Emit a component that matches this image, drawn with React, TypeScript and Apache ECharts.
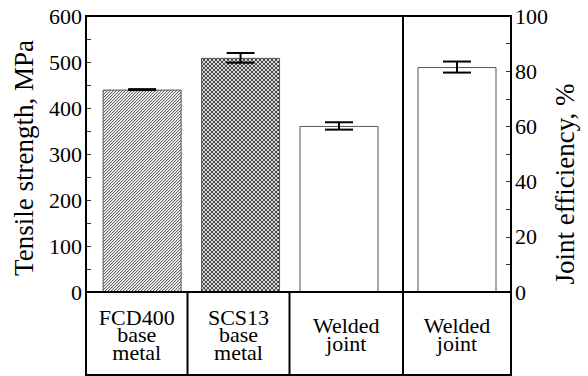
import React, { useEffect, useRef } from "react";
import * as echarts from "echarts";

// ---- data ----
const strengthCategories = ["FCD400\nbase\nmetal", "SCS13\nbase\nmetal", "Welded\njoint"];
const strengthValues = [440, 509, 361];
const strengthErrors = [1, 10.5, 8];
const efficiencyCategories = ["Welded\njoint"];
const efficiencyValues = [81.5];
const efficiencyErrors = [2];
const leftAxisName = "Tensile strength, MPa";
const rightAxisName = "Joint efficiency, %";

// ---- layout ----
const W = 588;
const H = 376;
const PL = 86; // plot left
const PR = 511; // plot right
const PT = 16; // plot top
const PB = 292; // plot bottom (zero line)
const BB = 375; // bottom of label boxes
const SPLIT = 403; // divider between the two panels
const BOX_DIVS = [187.5, 289.5];
const FONT = "'Liberation Serif', 'DejaVu Serif', 'Times New Roman', serif";

function makePattern(kind: "hatch" | "cross"): HTMLCanvasElement {
  const c = document.createElement("canvas");
  const n = kind === "hatch" ? 3 : 4;
  c.width = n;
  c.height = n;
  const ctx = c.getContext("2d")!;
  if (kind === "hatch") {
    ctx.fillStyle = "#ffffff";
    ctx.fillRect(0, 0, n, n);
    for (let i = 0; i < n; i++) {
      ctx.fillStyle = "#666666";
      ctx.fillRect(i, n - 1 - i, 1, 1);
      ctx.fillStyle = "#d4d4d4";
      ctx.fillRect((i + 1) % n, n - 1 - i, 1, 1);
    }
  } else {
    ctx.fillStyle = "#d8d8d8";
    ctx.fillRect(0, 0, n, n);
    ctx.fillStyle = "#4a4a4a";
    for (let i = 0; i < n; i++) {
      ctx.fillRect(i, i, 1, 1);
      ctx.fillRect(i, n - 1 - i, 1, 1);
    }
  }
  return c;
}

export default function App() {
  const ref = useRef<HTMLDivElement>(null);

  useEffect(() => {
    if (!ref.current) return;
    const chart = echarts.init(ref.current, null, { renderer: "svg" });

    const fills: any[] = [
      { image: makePattern("hatch"), repeat: "repeat" },
      { image: makePattern("cross"), repeat: "repeat" },
      "#ffffff",
    ];

    const errRender = (params: any, api: any) => {
      const x = api.value(0);
      const lo = api.value(1);
      const hi = api.value(2);
      const t = api.coord([x, hi]);
      const b = api.coord([x, lo]);
      const hw = 14;
      const st = { stroke: "#000", lineWidth: 2 };
      return {
        type: "group",
        children: [
          { type: "line", shape: { x1: t[0], y1: t[1], x2: b[0], y2: b[1] }, style: st },
          { type: "line", shape: { x1: t[0] - hw, y1: t[1], x2: t[0] + hw, y2: t[1] }, style: st },
          { type: "line", shape: { x1: b[0] - hw, y1: b[1], x2: b[0] + hw, y2: b[1] }, style: st },
        ],
      };
    };

    const lineStyle = { stroke: "#000", lineWidth: 2 };
    const hLine = (x1: number, x2: number, y: number) => ({
      type: "line",
      shape: { x1, y1: y, x2, y2: y },
      style: lineStyle,
      z: 100,
    });
    const vLine = (x: number, y1: number, y2: number) => ({
      type: "line",
      shape: { x1: x, y1, x2: x, y2 },
      style: lineStyle,
      z: 100,
    });

    const boxEdges = [PL, ...BOX_DIVS, SPLIT, PR];
    const allLabels = [...strengthCategories, ...efficiencyCategories];
    const boxTexts = allLabels.map((label, i) => ({
      type: "text",
      x: (boxEdges[i] + boxEdges[i + 1]) / 2,
      y: (PB + BB) / 2 + 1,
      style: {
        text: label,
        font: `22px ${FONT}`,
        fill: "#000",
        align: "center",
        verticalAlign: "middle",
        lineHeight: 17.5,
      },
      z: 100,
    }));

    const axisLabel = { color: "#000", fontSize: 22, fontFamily: FONT };

    chart.setOption({
      animation: false,
      grid: [
        { left: PL, right: W - SPLIT, top: PT, bottom: H - PB },
        { left: SPLIT, right: W - PR, top: PT, bottom: H - PB },
      ],
      xAxis: [
        { type: "value", gridIndex: 0, min: 0.43, max: 3.65, show: false },
        { type: "category", gridIndex: 1, data: efficiencyCategories, show: false },
      ],
      yAxis: [
        {
          type: "value",
          gridIndex: 0,
          position: "left",
          min: 0,
          max: 600,
          interval: 100,
          axisLine: { show: false },
          axisTick: { show: true, inside: true, length: 5, lineStyle: { color: "#333", width: 1 } },
          minorTick: { show: true, splitNumber: 2, length: 5, lineStyle: { color: "#333", width: 1 } },
          splitLine: { show: false },
          axisLabel: { ...axisLabel, margin: 4 },
        },
        {
          type: "value",
          gridIndex: 1,
          position: "right",
          min: 0,
          max: 100,
          interval: 20,
          axisLine: { show: false },
          axisTick: { show: true, inside: true, length: 5, lineStyle: { color: "#333", width: 1 } },
          minorTick: { show: true, splitNumber: 2, length: 5, lineStyle: { color: "#333", width: 1 } },
          splitLine: { show: false },
          axisLabel: { ...axisLabel, margin: 4 },
        },
      ],
      graphic: [
        {
          type: "text",
          x: 24,
          y: (PT + PB) / 2 + 4,
          rotation: Math.PI / 2,
          style: {
            text: leftAxisName,
            font: `27px ${FONT}`,
            fill: "#000",
            align: "center",
            verticalAlign: "middle",
          },
        },
        {
          type: "text",
          x: 565,
          y: 184,
          rotation: Math.PI / 2,
          style: {
            text: rightAxisName,
            font: `27px ${FONT}`,
            fill: "#000",
            align: "center",
            verticalAlign: "middle",
          },
        },
        hLine(PL - 1, PR + 1, PT),
        hLine(PL, PR, PB),
        hLine(PL - 1, PR + 1, BB),
        ...boxEdges.map((x, i) => vLine(x, i === 1 || i === 2 ? PB : PT, BB + 1)),
        ...boxTexts,
      ],
      series: [
        {
          type: "bar",
          xAxisIndex: 0,
          yAxisIndex: 0,
          barWidth: 79,
          data: strengthValues.map((v, i) => ({
            value: [i + 1, v],
            itemStyle: { color: fills[i] },
          })),
          itemStyle: { borderColor: "#555", borderWidth: 1 },
          z: 2,
        },
        {
          type: "custom",
          xAxisIndex: 0,
          yAxisIndex: 0,
          renderItem: errRender,
          data: strengthValues.map((v, i) => [i + 1, v - strengthErrors[i], v + strengthErrors[i]]),
          z: 5,
        },
        {
          type: "bar",
          xAxisIndex: 1,
          yAxisIndex: 1,
          barWidth: 79,
          data: efficiencyValues,
          itemStyle: { color: "#fff", borderColor: "#555", borderWidth: 1 },
          z: 2,
        },
        {
          type: "custom",
          xAxisIndex: 1,
          yAxisIndex: 1,
          renderItem: errRender,
          data: efficiencyValues.map((v, i) => [i, v - efficiencyErrors[i], v + efficiencyErrors[i]]),
          z: 5,
        },
      ],
    });

    return () => chart.dispose();
  }, []);

  return (
    <div
      ref={ref}
      style={{ position: "fixed", left: 0, top: 0, width: W, height: H, background: "#fff" }}
    />
  );
}
